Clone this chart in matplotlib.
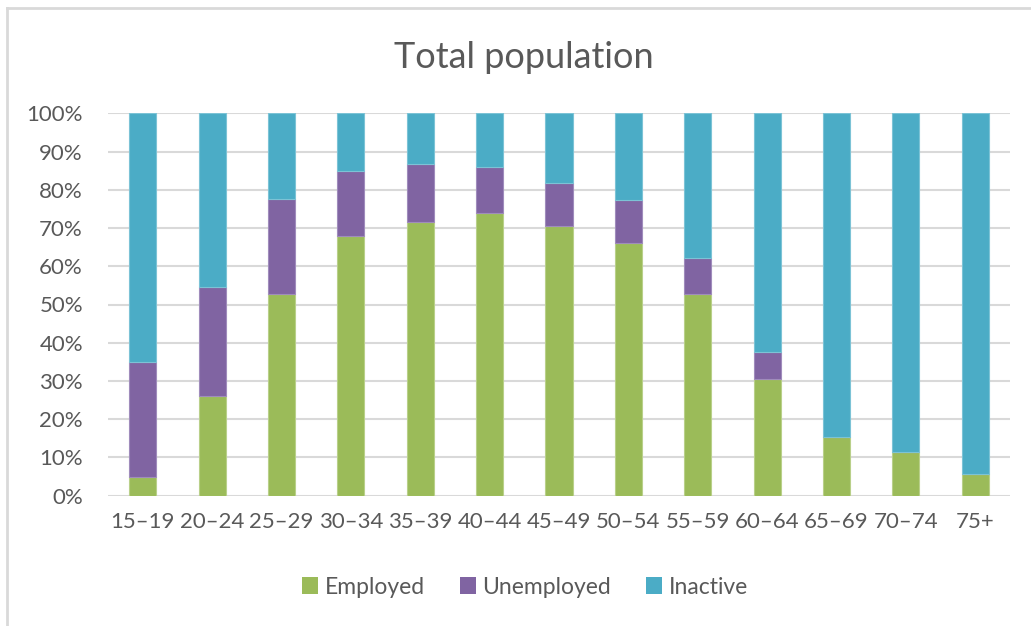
import matplotlib
matplotlib.use("Agg")
import matplotlib.pyplot as plt
from matplotlib.patches import Rectangle
from matplotlib.lines import Line2D
from matplotlib.ticker import PercentFormatter, MultipleLocator

categories = ["15–19", "20–24", "25–29", "30–34", "35–39", "40–44", "45–49",
              "50–54", "55–59", "60–64", "65–69", "70–74", "75+"]
employed = [5.0, 26.0, 52.7, 67.8, 71.7, 73.8, 70.4, 66.0, 52.7, 30.4, 15.3, 11.5, 5.8]
unemployed = [30.0, 28.5, 24.9, 17.0, 15.0, 12.2, 11.3, 11.4, 9.4, 7.1, 0.0, 0.0, 0.0]
inactive = [100 - e - u for e, u in zip(employed, unemployed)]

series_names = ["Employed", "Unemployed", "Inactive"]
colors = ["#9BBB59", "#8064A2", "#4BACC6"]
edge_colors = ["#b9d08a", "#a08cbc", "#7cc3d6"]
text_color = "#595959"

plt.rcParams['font.family'] = ['Lato', 'DejaVu Sans']

fig = plt.figure(figsize=(10.31, 6.26), dpi=100)
ax = fig.add_axes([108 / 1031, (626 - 495.7) / 626, (1010 - 108) / 1031, (495.7 - 113.3) / 626])

x = list(range(len(categories)))
bottom = [0.0] * len(categories)
for vals, name, c, ec in zip([employed, unemployed, inactive], series_names, colors, edge_colors):
    ax.bar(x, vals, width=0.39, bottom=bottom, color=c, edgecolor=ec, linewidth=0.8,
           label=name, zorder=3)
    bottom = [b + v for b, v in zip(bottom, vals)]

ax.set_xlim(-0.5, len(categories) - 0.5)
ax.set_ylim(0, 100)
ax.yaxis.set_major_locator(MultipleLocator(10))
ax.yaxis.set_major_formatter(PercentFormatter(decimals=0))
ax.set_xticks(x)
ax.set_xticklabels(categories)
ax.tick_params(axis='both', length=0, labelsize=16, colors=text_color)
ax.tick_params(axis='y', pad=18)
ax.tick_params(axis='x', pad=12)
for lbl in ax.get_yticklabels():
    lbl.set_horizontalalignment('right')
ax.grid(axis='y', color='#d9d9d9', linewidth=1.5, zorder=0)
for s in ax.spines.values():
    s.set_visible(False)

fig.text(524 / 1031, 1 - 57 / 626, "Total population", ha='center', va='center',
         fontsize=26, color=text_color)

handles = [Rectangle((0, 0), 1, 1, facecolor=c, edgecolor='none') for c in colors]
fig.legend(handles, series_names, loc='center', bbox_to_anchor=(525 / 1031, 1 - 587 / 626),
           ncol=3, frameon=False, fontsize=16.5, handlelength=0.7, handleheight=0.7,
           handletextpad=0.3, columnspacing=1.5, labelcolor=text_color)

# chart frame (left and top border)
fig.add_artist(Line2D([7 / 1031, 7 / 1031], [0, 1 - 7.5 / 626], transform=fig.transFigure,
                      color='#d9d9d9', linewidth=2))
fig.add_artist(Line2D([7 / 1031, 1], [1 - 7.5 / 626, 1 - 7.5 / 626], transform=fig.transFigure,
                      color='#d9d9d9', linewidth=2))

fig.savefig("out.png", dpi=100, facecolor='white')
